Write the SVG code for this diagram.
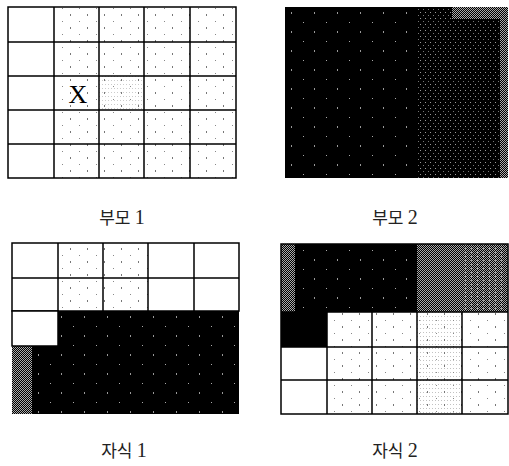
<svg xmlns="http://www.w3.org/2000/svg" width="509" height="466" viewBox="0 0 509 466">
<style>
.g{stroke:#000;stroke-width:1.5;fill:none}
.lbl{font-family:"Liberation Serif","Noto Sans CJK KR",serif;font-size:17px;fill:#222;text-anchor:middle}
.n{font-size:20px}
</style>
<defs>
<pattern id="dk" width="5" height="6" patternUnits="userSpaceOnUse"><rect width="5" height="6" fill="#000"/><rect width="1" height="1" fill="#999"/><rect x="3" y="3" width="1" height="1" fill="#777"/></pattern>
<pattern id="md" width="2" height="2" patternUnits="userSpaceOnUse"><rect width="2" height="2" fill="#000"/><rect width="1" height="1" fill="#aaa"/><rect x="1" y="1" width="1" height="1" fill="#aaa"/></pattern>
<pattern id="lt" width="3" height="4" patternUnits="userSpaceOnUse"><rect width="1" height="1" fill="#999"/></pattern>
<pattern id="sp" width="17" height="13" patternUnits="userSpaceOnUse"><rect x="2" y="1" width="1" height="2" fill="#777"/><rect x="11" y="8" width="1" height="1" fill="#888"/></pattern>
<pattern id="spw" width="23" height="19" patternUnits="userSpaceOnUse"><rect x="4" y="3" width="1" height="1" fill="#aaa"/><rect x="15" y="12" width="1" height="2" fill="#999"/></pattern>
</defs>

<g id="parent1">
<rect x="8" y="7" width="228" height="171" fill="#fff"/>
<rect x="99" y="76" width="45" height="34" fill="url(#lt)" opacity="0.5"/>
<rect x="54" y="7" width="182" height="171" fill="url(#sp)"/>
<path class="g" d="M8 7H236V178H8Z M54 7V178 M99 7V178 M144 7V178 M190 7V178 M8 42H236 M8 76H236 M8 110H236 M8 144H236"/>
<text x="78" y="103" font-family="Liberation Serif,serif" font-size="26" text-anchor="middle" fill="#000">X</text>
</g>

<g id="parent2">
<rect x="285" y="7" width="223" height="171" fill="#000"/>
<rect x="285" y="7" width="132" height="171" fill="url(#spw)"/>
<rect x="417" y="7" width="83" height="171" fill="url(#dk)"/>
<rect x="452" y="7" width="48" height="12" fill="url(#md)"/>
<rect x="500" y="7" width="8" height="171" fill="url(#md)"/>
</g>

<g id="child1">
<rect x="12" y="243" width="227" height="171" fill="#fff"/>
<rect x="58" y="243" width="90" height="68" fill="url(#sp)"/>
<path class="g" d="M12 243H239V311H12Z M58 243V311 M103 243V311 M148 243V311 M194 243V311 M12 278H239"/>
<path d="M12 311H239V414H12Z" fill="#000"/>
<rect x="12" y="311" width="46" height="35" fill="#fff"/>
<rect x="12" y="346" width="20" height="68" fill="url(#md)"/>
<rect x="32" y="346" width="207" height="68" fill="url(#spw)"/>
<rect x="58" y="311" width="181" height="35" fill="url(#spw)"/>
<path class="g" d="M12 311H58V346H12Z"/>
</g>

<g id="child2">
<rect x="281" y="244" width="227" height="170" fill="#fff"/>
<rect x="417" y="312" width="45" height="102" fill="url(#lt)" opacity="0.6"/>
<rect x="327" y="312" width="181" height="102" fill="url(#sp)"/>
<rect x="281" y="244" width="227" height="68" fill="#000"/>
<rect x="281" y="312" width="46" height="35" fill="#000"/>
<rect x="281" y="244" width="14" height="68" fill="url(#md)"/>
<rect x="295" y="244" width="122" height="68" fill="url(#spw)"/>
<rect x="417" y="244" width="45" height="68" fill="url(#md)"/>
<rect x="462" y="244" width="46" height="68" fill="url(#md)"/>
<rect x="462" y="244" width="46" height="68" fill="url(#lt)"/>
<path class="g" d="M281 244H508V414H281Z M327 312V414 M372 312V414 M417 312V414 M462 312V414 M327 347H508 M281 347H327 M281 380H508 M281 312H508"/>
</g>

<g id="labels">
<text class="lbl" x="122" y="224">부모 <tspan class="n">1</tspan></text>
<text class="lbl" x="395" y="224">부모 <tspan class="n">2</tspan></text>
<text class="lbl" x="124" y="457">자식 <tspan class="n">1</tspan></text>
<text class="lbl" x="395" y="457">자식 <tspan class="n">2</tspan></text>
</g>
</svg>
